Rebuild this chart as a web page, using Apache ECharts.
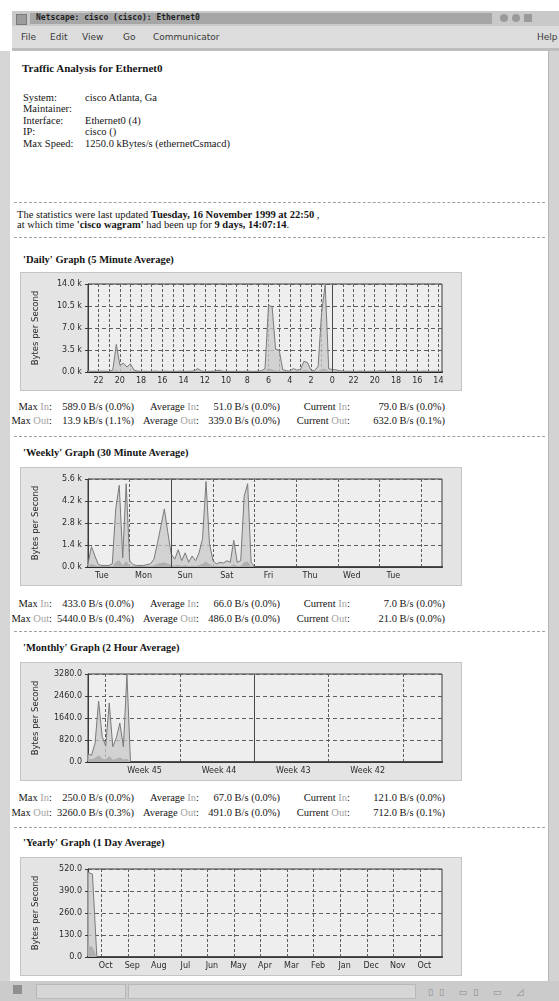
<!DOCTYPE html>
<html>
<head>
<meta charset="utf-8">
<title>Netscape: cisco (cisco): Ethernet0</title>
<script src="https://cdn.jsdelivr.net/npm/echarts@6/dist/echarts.min.js"></script>
<style>
  html, body { margin: 0; padding: 0; }
  body {
    width: 559px; height: 1001px; position: relative; overflow: hidden; background: #fff;
    font-family: 'Liberation Serif', 'DejaVu Serif', serif; color: #151515;
  }
  .a { position: absolute; white-space: pre; line-height: 12px; height: 12px; }
  .ui { font-family: 'DejaVu Sans', sans-serif; font-size: 9px; color: #3a3a3a; }
  .t { font-size: 10.5px; }
  .b { font-weight: bold; }
  .io { color: #a3a3a3; }
  .hr { position: absolute; left: 14px; width: 531px; height: 0; border-top: 1px dashed #a0a0a0; }
  .graph { position: absolute; left: 20px; width: 442px; height: 119px; background: #e4e4e4;
           outline: 1px solid #c4c4c4; outline-offset: -1px; }
  .stat { position: absolute; font-size: 10.5px; line-height: 12px; white-space: pre; text-align: right; }
</style>
</head>
<body>

<!-- window chrome -->
<div style="position:absolute;left:12px;top:11px;width:547px;height:15px;background:#c9c9c9;"></div>
<div style="position:absolute;left:16px;top:14px;width:9px;height:9px;background:#9c9c9c;border:1px solid #7a7a7a;"></div>
<div style="position:absolute;left:30px;top:13px;width:462px;height:11px;background:#a6a6a6;"></div>
<div class="a" style="left:36px;top:12px;font-family:'DejaVu Sans Mono',monospace;font-weight:bold;font-size:8px;color:#1e1e1e;">Netscape: cisco (cisco): Ethernet0</div>
<div style="position:absolute;left:500px;top:14px;width:8px;height:8px;border-radius:4px;background:#9a9a9a;"></div>
<div style="position:absolute;left:512px;top:14px;width:8px;height:8px;border-radius:4px;background:#9a9a9a;"></div>
<div style="position:absolute;left:524px;top:14px;width:8px;height:8px;background:#9a9a9a;"></div>
<div style="position:absolute;left:12px;top:26px;width:547px;height:22px;background:#dcdcdc;"></div>
<div class="a ui" style="left:21px;top:31px;">File</div>
<div class="a ui" style="left:50px;top:31px;">Edit</div>
<div class="a ui" style="left:82px;top:31px;">View</div>
<div class="a ui" style="left:123px;top:31px;">Go</div>
<div class="a ui" style="left:153px;top:31px;">Communicator</div>
<div class="a ui" style="left:537px;top:31px;">Help</div>
<div style="position:absolute;left:12px;top:48px;width:547px;height:3px;background:#bdbdbd;"></div>
<div style="position:absolute;left:0;top:51px;width:10px;height:930px;background:#d6d6d6;"></div>
<div style="position:absolute;left:548px;top:51px;width:11px;height:930px;background:#d3d3d3;border-left:1px solid #b5b5b5;"></div>
<div style="position:absolute;left:0;top:981px;width:559px;height:20px;background:#cbcbcb;"></div>
<div style="position:absolute;left:13px;top:985px;width:9px;height:9px;background:#8f8f8f;"></div>
<div style="position:absolute;left:36px;top:984px;width:88px;height:13px;background:#d6d6d6;border:1px solid #b8b8b8;"></div>
<div style="position:absolute;left:128px;top:984px;width:286px;height:13px;background:#d6d6d6;border:1px solid #b8b8b8;"></div>
<div class="a ui" style="left:428px;top:986px;color:#8a8a8a;letter-spacing:6px;">▯▯ ▭▯ ▭ ◿</div>

<!-- page header -->
<div class="a t b" style="left:22px;top:62px;font-size:11px;">Traffic Analysis for Ethernet0</div>
<div class="a t" style="left:23px;top:92px;">System:</div>
<div class="a t" style="left:85px;top:92px;">cisco Atlanta, Ga</div>
<div class="a t" style="left:23px;top:103px;">Maintainer:</div>
<div class="a t" style="left:23px;top:115px;">Interface:</div>
<div class="a t" style="left:85px;top:115px;">Ethernet0 (4)</div>
<div class="a t" style="left:23px;top:126px;">IP:</div>
<div class="a t" style="left:85px;top:126px;">cisco ()</div>
<div class="a t" style="left:23px;top:138px;">Max Speed:</div>
<div class="a t" style="left:85px;top:138px;">1250.0 kBytes/s (ethernetCsmacd)</div>
<div class="hr" style="top:202px;"></div>
<div class="a t" style="left:17px;top:209px;">The statistics were last updated <b>Tuesday, 16 November 1999 at 22:50</b> ,</div>
<div class="a t" style="left:17px;top:219px;">at which time <b>'cisco wagram'</b> had been up for <b>9 days, 14:07:14</b>.</div>
<div class="hr" style="top:237px;"></div>

<div class="a t b" style="left:23px;top:254px;">'Daily' Graph (5 Minute Average)</div>
<div class="graph" id="daily" style="top:272px;"></div>
<div class="hr" style="top:436px;"></div>
<div class="a t b" style="left:23px;top:447px;">'Weekly' Graph (30 Minute Average)</div>
<div class="graph" id="weekly" style="top:467px;"></div>
<div class="hr" style="top:631px;"></div>
<div class="a t b" style="left:23px;top:642px;">'Monthly' Graph (2 Hour Average)</div>
<div class="graph" id="monthly" style="top:662px;"></div>
<div class="hr" style="top:827px;"></div>
<div class="a t b" style="left:23px;top:837px;">'Yearly' Graph (1 Day Average)</div>
<div class="graph" id="yearly" style="top:857px;"></div>

<script>
// slot = one sample column, newest on the left (MRTG style)
var dailyXTicks = ['22', '20', '18', '16', '14', '12', '10', '8', '6', '4', '2', '0', '22', '20', '18', '16', '14'];
var dailyYTicks = ['0.0 k', '3.5 k', '7.0 k', '10.5 k', '14.0 k'];
var dailyOut = [
  150, 100, 120, 100, 150, 120, 100, 300, 4400, 1100,
  1400, 800, 1300, 300, 150, 100, 120, 100, 100, 150,
  100, 100, 120, 100, 100, 100, 150, 100, 100, 120,
  200, 540, 150, 100, 100, 120, 150, 300, 120, 100,
  100, 100, 120, 100, 100, 150, 100, 100, 120, 200,
  500, 10600, 10400, 3600, 3500, 400, 200, 150, 540, 300,
  400, 1700, 1500, 300, 200, 900, 9500, 13900, 500, 400,
  350, 200, 150, 100, 120, 100, 100, 150, 100, 100,
  120, 100, 150, 200, 100, 100, 120, 100, 100, 150,
  100, 100, 120, 100, 100, 150, 100, 100, 120, 100,
  100
];
var dailyIn = [
  60, 50, 40, 50, 60, 50, 40, 80, 300, 120,
  150, 90, 110, 60, 50, 40, 40, 50, 40, 50,
  40, 40, 50, 40, 40, 40, 50, 40, 40, 50,
  60, 250, 60, 40, 40, 50, 50, 90, 50, 40,
  40, 40, 50, 40, 40, 50, 40, 40, 50, 70,
  120, 589, 400, 250, 200, 90, 60, 50, 150, 80,
  100, 300, 260, 80, 60, 150, 400, 520, 120, 90,
  79, 60, 50, 40, 50, 40, 40, 50, 40, 40,
  50, 40, 50, 60, 40, 40, 50, 40, 40, 50,
  40, 40, 50, 40, 40, 50, 40, 40, 50, 40,
  40
];

var weeklyXTicks = ['Tue', 'Mon', 'Sun', 'Sat', 'Fri', 'Thu', 'Wed', 'Tue'];
var weeklyYTicks = ['0.0 k', '1.4 k', '2.8 k', '4.2 k', '5.6 k'];
var weeklyOut = [
  200, 1300, 700, 150, 100, 100, 100, 200, 3700, 5200,
  600, 5300, 400, 150, 100, 100, 100, 150, 200, 500,
  1500, 2600, 3700, 2200, 800, 500, 1100, 400, 900, 300,
  700, 400, 900, 1800, 5440, 1500, 400, 200, 300, 250,
  400, 300, 1700, 300, 400, 4500, 5300, 300, 0, 0,
  0, 0, 0, 0, 0, 0, 0, 0, 0, 0,
  0, 0, 0, 0, 0, 0, 0, 0, 0, 0,
  0, 0, 0, 0, 0, 0, 0, 0, 0, 0,
  0, 0, 0, 0, 0, 0, 0, 0, 0, 0,
  0, 0, 0, 0, 0, 0, 0, 0, 0, 0,
  0, 0, 0
];
var weeklyIn = [
  60, 200, 120, 50, 40, 40, 40, 60, 300, 433,
  100, 380, 80, 40, 30, 30, 30, 40, 60, 90,
  200, 250, 300, 200, 120, 90, 150, 80, 120, 60,
  100, 70, 120, 200, 350, 180, 70, 50, 60, 50,
  70, 60, 180, 60, 70, 300, 350, 60, 0, 0,
  0, 0, 0, 0, 0, 0, 0, 0, 0, 0,
  0, 0, 0, 0, 0, 0, 0, 0, 0, 0,
  0, 0, 0, 0, 0, 0, 0, 0, 0, 0,
  0, 0, 0, 0, 0, 0, 0, 0, 0, 0,
  0, 0, 0, 0, 0, 0, 0, 0, 0, 0,
  0, 0, 0
];

var monthlyXTicks = ['Week 45', 'Week 44', 'Week 43', 'Week 42'];
var monthlyYTicks = ['0.0', '820.0', '1640.0', '2460.0', '3280.0'];
var monthlyOut = [
  300, 250, 700, 2270, 950, 600, 2200, 570, 900, 1450,
  570, 3260, 0, 0, 0, 0, 0, 0, 0, 0,
  0, 0, 0, 0, 0, 0, 0, 0, 0, 0,
  0, 0, 0, 0, 0, 0, 0, 0, 0, 0,
  0, 0, 0, 0, 0, 0, 0, 0, 0, 0,
  0, 0, 0, 0, 0, 0, 0, 0, 0, 0,
  0, 0, 0, 0, 0, 0, 0, 0, 0, 0,
  0, 0, 0, 0, 0, 0, 0, 0, 0, 0,
  0, 0, 0, 0, 0, 0, 0, 0, 0, 0,
  0, 0, 0, 0, 0, 0, 0, 0, 0, 0,
  0
];
var monthlyIn = [
  120, 100, 150, 250, 130, 90, 220, 80, 120, 180,
  90, 121, 0, 0, 0, 0, 0, 0, 0, 0,
  0, 0, 0, 0, 0, 0, 0, 0, 0, 0,
  0, 0, 0, 0, 0, 0, 0, 0, 0, 0,
  0, 0, 0, 0, 0, 0, 0, 0, 0, 0,
  0, 0, 0, 0, 0, 0, 0, 0, 0, 0,
  0, 0, 0, 0, 0, 0, 0, 0, 0, 0,
  0, 0, 0, 0, 0, 0, 0, 0, 0, 0,
  0, 0, 0, 0, 0, 0, 0, 0, 0, 0,
  0, 0, 0, 0, 0, 0, 0, 0, 0, 0,
  0
];

var yearlyXTicks = ['Oct', 'Sep', 'Aug', 'Jul', 'Jun', 'May', 'Apr', 'Mar', 'Feb', 'Jan', 'Dec', 'Nov', 'Oct'];
var yearlyYTicks = ['0.0', '130.0', '260.0', '390.0', '520.0'];
var yearlyOut = [
  500, 490, 0, 0, 0, 0, 0, 0, 0, 0,
  0, 0, 0, 0, 0, 0, 0, 0, 0, 0,
  0, 0, 0, 0, 0, 0, 0, 0, 0, 0,
  0, 0, 0, 0, 0, 0, 0, 0, 0, 0,
  0, 0, 0, 0, 0, 0, 0, 0, 0, 0,
  0, 0, 0, 0, 0, 0, 0, 0, 0, 0,
  0, 0, 0, 0, 0, 0, 0, 0, 0, 0,
  0, 0, 0, 0, 0, 0, 0, 0, 0, 0,
  0
];
var yearlyIn = [
  67, 60, 0, 0, 0, 0, 0, 0, 0, 0,
  0, 0, 0, 0, 0, 0, 0, 0, 0, 0,
  0, 0, 0, 0, 0, 0, 0, 0, 0, 0,
  0, 0, 0, 0, 0, 0, 0, 0, 0, 0,
  0, 0, 0, 0, 0, 0, 0, 0, 0, 0,
  0, 0, 0, 0, 0, 0, 0, 0, 0, 0,
  0, 0, 0, 0, 0, 0, 0, 0, 0, 0,
  0, 0, 0, 0, 0, 0, 0, 0, 0, 0,
  0
];

// summary rows under each graph: [In row, Out row], each [max, average, current]
var dailyStats = [['589.0 B/s (0.0%)', '51.0 B/s (0.0%)', '79.0 B/s (0.0%)'],
                  ['13.9 kB/s (1.1%)', '339.0 B/s (0.0%)', '632.0 B/s (0.1%)']];
var weeklyStats = [['433.0 B/s (0.0%)', '66.0 B/s (0.0%)', '7.0 B/s (0.0%)'],
                   ['5440.0 B/s (0.4%)', '486.0 B/s (0.0%)', '21.0 B/s (0.0%)']];
var monthlyStats = [['250.0 B/s (0.0%)', '67.0 B/s (0.0%)', '121.0 B/s (0.0%)'],
                    ['3260.0 B/s (0.3%)', '491.0 B/s (0.0%)', '712.0 B/s (0.1%)']];

function drawGraph(id, out, inn, xTicks, yTicks, yMax, lay) {
  var chart = echarts.init(document.getElementById(id));
  var slots = [];
  for (var i = 0; i < out.length; i++) slots.push(String(i));

  function tickAt(i) {
    var k = (i - lay.labelFrom) / lay.labelStep;
    return (k >= 0 && k === Math.floor(k) && k < xTicks.length) ? k : -1;
  }
  function lineAt(i) {
    return i >= lay.lineFrom && (i - lay.lineFrom) % lay.lineStep === 0 && i < out.length - 1;
  }

  var mark = lay.markAt == null ? undefined : {
    silent: true, symbol: 'none', label: {show: false},
    lineStyle: {color: '#4a4a4a', type: 'solid', width: 1},
    data: [{xAxis: String(lay.markAt)}]
  };

  chart.setOption({
    animation: false,
    grid: {
      left: 68, right: 20, top: 12, bottom: 19,
      show: true, backgroundColor: '#eeeeee', borderColor: '#3a3a3a', borderWidth: 1
    },
    xAxis: {
      type: 'category', data: slots, boundaryGap: false,
      axisLine: {show: true, lineStyle: {color: '#262626', width: 2}},
      axisTick: {show: false},
      axisLabel: {
        interval: function (i) { return tickAt(i) >= 0; },
        formatter: function (v, i) { return xTicks[tickAt(i)]; },
        fontFamily: 'DejaVu Sans', fontSize: 8, color: '#2a2a2a', margin: 5
      },
      splitLine: {
        show: true,
        interval: function (i) { return lineAt(i); },
        lineStyle: {color: '#5e5e5e', type: [3, 2], width: 1}
      }
    },
    yAxis: {
      type: 'value', min: 0, max: yMax, interval: yMax / 4,
      name: 'Bytes per Second', nameLocation: 'middle', nameGap: 48,
      nameTextStyle: {fontFamily: 'DejaVu Sans', fontSize: 8.5, color: '#2a2a2a'},
      axisLine: {show: true, lineStyle: {color: '#3a3a3a'}},
      axisTick: {show: true, length: 3, lineStyle: {color: '#3a3a3a'}},
      axisLabel: {
        fontFamily: 'DejaVu Sans', fontSize: 8, color: '#2a2a2a', margin: 6,
        formatter: function (v) { return yTicks[Math.round(v / (yMax / 4))]; }
      },
      splitLine: {show: true, lineStyle: {color: '#5e5e5e', type: [4, 3], width: 1}}
    },
    series: [{
      name: 'Out', type: 'line', data: out, symbol: 'none', z: 2,
      lineStyle: {color: '#7a7a7a', width: 1},
      areaStyle: {color: '#c8c8c8', opacity: 0.75},
      markLine: mark
    }, {
      name: 'In', type: 'line', data: inn, symbol: 'none', z: 3,
      lineStyle: {width: 0},
      areaStyle: {color: '#b0b0b0', opacity: 1}
    }]
  });
}

// MRTG summary table: label cell and value cell, both right aligned
function writeStats(rows, yIn, yOut) {
  var names = ['Max', 'Average', 'Current'];
  var labelRight = [52, 199, 350];
  var valueRight = [134, 280, 445];
  var dir = ['In', 'Out'];
  for (var r = 0; r < 2; r++) {
    var top = (r === 0 ? yIn : yOut) - 6;
    for (var c = 0; c < 3; c++) {
      var lab = document.createElement('div');
      lab.className = 'stat';
      lab.style.top = top + 'px';
      lab.style.right = (559 - labelRight[c]) + 'px';
      lab.innerHTML = names[c] + ' <span class="io">' + dir[r] + '</span>:';
      document.body.appendChild(lab);
      var val = document.createElement('div');
      val.className = 'stat';
      val.style.top = top + 'px';
      val.style.right = (559 - valueRight[c]) + 'px';
      val.textContent = rows[r][c];
      document.body.appendChild(val);
    }
  }
}

drawGraph('daily', dailyOut, dailyIn, dailyXTicks, dailyYTicks, 14000,
  {labelFrom: 3, labelStep: 6, lineFrom: 3, lineStep: 3, markAt: 69});
drawGraph('weekly', weeklyOut, weeklyIn, weeklyXTicks, weeklyYTicks, 5600,
  {labelFrom: 4, labelStep: 12, lineFrom: 12, lineStep: 12, markAt: 24});
drawGraph('monthly', monthlyOut, monthlyIn, monthlyXTicks, monthlyYTicks, 3280,
  {labelFrom: 16, labelStep: 21, lineFrom: 5, lineStep: 21, markAt: 47});
drawGraph('yearly', yearlyOut, yearlyIn, yearlyXTicks, yearlyYTicks, 520,
  {labelFrom: 4, labelStep: 6, lineFrom: 3, lineStep: 6, markAt: null});

writeStats(dailyStats, 407, 421);
writeStats(weeklyStats, 604, 619);
writeStats(monthlyStats, 798, 813);
</script>
</body>
</html>
